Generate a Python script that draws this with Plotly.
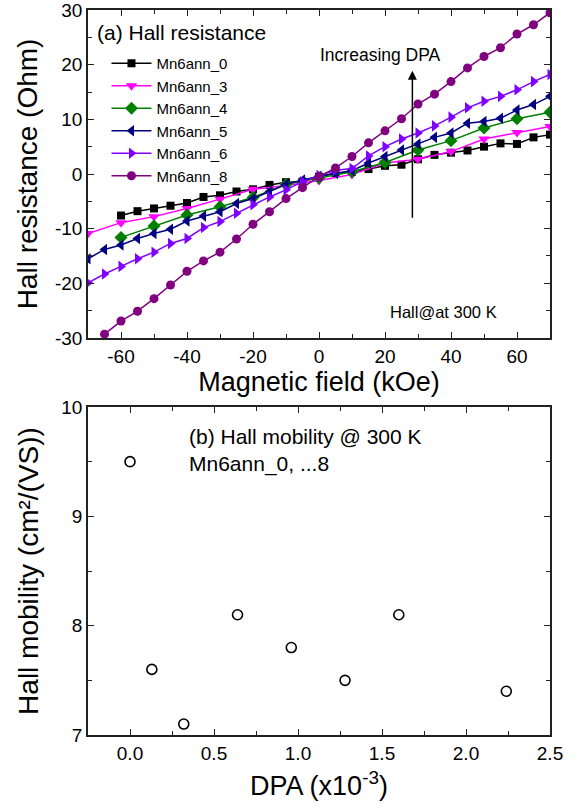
import plotly.graph_objects as go

# ---------------- data: panel (a) Hall resistance ----------------
field_0 = [-60, -55, -50, -45, -40, -35, -30, -25, -20, -15, -10, -5, 0, 5, 10, 15, 20, 25, 30, 35, 40, 45, 50, 55, 60, 65, 70]
hall_0 = [-7.6, -6.8, -6.3, -5.8, -5.3, -4.2, -3.9, -3.2, -2.8, -2.0, -1.5, -1.4, -0.5, 0.2, 0.4, 0.9, 1.5, 1.7, 2.7, 3.5, 3.9, 4.3, 5.0, 5.6, 5.5, 6.7, 7.2]

field_3 = [-70, -60, -50, -40, -30, -20, -10, 0, 10, 20, 30, 40, 50, 60, 70]
hall_3 = [-10.9, -8.9, -7.8, -6.3, -4.6, -2.8, -2.1, -1.2, -0.1, 2.0, 2.7, 4.1, 6.4, 7.6, 8.7]

field_4 = [-60, -50, -40, -30, -20, -10, 0, 10, 20, 30, 40, 50, 60, 70]
hall_4 = [-11.6, -9.5, -7.5, -6.0, -4.3, -1.9, -0.7, 0.4, 2.1, 4.4, 6.1, 8.4, 10.1, 11.3]

field_5 = [-70, -65, -60, -55, -50, -45, -40, -35, -30, -25, -20, -15, -10, -5, 0, 5, 10, 15, 20, 25, 30, 35, 40, 45, 50, 55, 60, 65, 70]
hall_5 = [-15.5, -13.8, -13.0, -11.8, -10.9, -10.1, -8.6, -7.7, -6.9, -5.4, -4.5, -3.2, -1.9, -1.1, -0.4, 0.1, 0.6, 2.0, 3.2, 4.4, 5.5, 6.7, 7.5, 9.3, 9.6, 10.2, 11.7, 12.7, 14.2]

field_6 = [-70, -65, -60, -55, -50, -45, -40, -35, -30, -25, -20, -15, -10, -5, 0, 5, 10, 15, 20, 25, 30, 35, 40, 45, 50, 55, 60, 65, 70]
hall_6 = [-19.9, -18.3, -16.9, -15.5, -14.3, -12.7, -11.8, -9.8, -8.7, -7.2, -5.6, -4.2, -2.9, -1.4, -0.3, 0.7, 1.0, 3.3, 5.0, 6.4, 7.5, 8.8, 10.4, 12.1, 13.3, 14.2, 15.4, 16.9, 18.2]

field_8 = [-65, -60, -55, -50, -45, -40, -35, -30, -25, -20, -15, -10, -5, 0, 5, 10, 15, 20, 25, 30, 35, 40, 45, 50, 55, 60, 65, 70]
hall_8 = [-29.3, -26.9, -25.1, -22.8, -20.3, -17.8, -15.9, -14.3, -11.9, -9.2, -6.9, -4.5, -2.5, -0.5, 1.1, 3.2, 5.7, 7.9, 10.1, 12.8, 14.6, 16.9, 19.4, 21.5, 23.1, 25.6, 27.3, 29.5]

sample_names = ["Mn6ann_0", "Mn6ann_3", "Mn6ann_4", "Mn6ann_5", "Mn6ann_6", "Mn6ann_8"]

# ---------------- data: panel (b) Hall mobility ----------------
dpa = [0.0, 0.13, 0.32, 0.64, 0.96, 1.28, 1.60, 2.24]
mobility = [9.5, 7.6, 7.1, 8.1, 7.8, 7.5, 8.1, 7.4]

# tick labels
field_ticks = [-60, -40, -20, 0, 20, 40, 60]
field_ticklabels = ["-60", "-40", "-20", "0", "20", "40", "60"]
hall_ticks = [-30, -20, -10, 0, 10, 20, 30]
hall_ticklabels = ["-30", "-20", "-10", "0", "10", "20", "30"]
dpa_ticks = [0.0, 0.5, 1.0, 1.5, 2.0, 2.5]
dpa_ticklabels = ["0.0", "0.5", "1.0", "1.5", "2.0", "2.5"]
mob_ticks = [7, 8, 9, 10]
mob_ticklabels = ["7", "8", "9", "10"]

# ---------------- styles ----------------
series = [
    (field_0, hall_0, "#000000", "square", 8),
    (field_3, hall_3, "#FF00FF", "triangle-down", 10),
    (field_4, hall_4, "#008000", "diamond", 10),
    (field_5, hall_5, "#000080", "triangle-left", 10),
    (field_6, hall_6, "#8000FF", "triangle-right", 10),
    (field_8, hall_8, "#800080", "circle", 9),
]

FONT = "Liberation Sans, Arial, sans-serif"

fig = go.Figure()
for (xs, ys, col, sym, sz), name in zip(series, sample_names):
    fig.add_trace(go.Scatter(
        x=xs, y=ys, name=name, mode="lines+markers",
        line=dict(color=col, width=1.5),
        marker=dict(symbol=sym, size=sz, color=col, line=dict(width=0)),
        xaxis="x", yaxis="y",
    ))

fig.add_trace(go.Scatter(
    x=dpa, y=mobility, mode="markers", showlegend=False,
    marker=dict(symbol="circle-open", size=10, color="black", line=dict(width=1.6)),
    xaxis="x2", yaxis="y2",
))

axis_common = dict(
    showline=True, linecolor="#222222", linewidth=1.5, mirror="ticks",
    ticks="inside", ticklen=6, tickwidth=1.3, tickcolor="#222222",
    showgrid=False, zeroline=False, automargin=False,
    ticklabeloverflow="allow",
    tickfont=dict(family=FONT, size=19, color="black"),
)
minor_common = dict(ticks="inside", ticklen=4, tickwidth=1.3, tickcolor="#222222")

fig.update_layout(
    width=581, height=806,
    margin=dict(l=88, r=31, t=10, b=71),
    paper_bgcolor="white", plot_bgcolor="white",
    font=dict(family=FONT, color="black"),
    xaxis=dict(
        axis_common, range=[-70, 70], anchor="y",
        tickvals=field_ticks, ticktext=field_ticklabels,
        minor=dict(minor_common, dtick=10, tick0=0),
        title=dict(text="Magnetic field (kOe)", font=dict(family=FONT, size=27), standoff=3),
    ),
    yaxis=dict(
        axis_common, range=[-30, 30], domain=[0.5476, 1.0], anchor="x",
        tickvals=hall_ticks, ticktext=hall_ticklabels,
        minor=dict(minor_common, dtick=5, tick0=0),
        title=dict(text="Hall resistance (Ohm)", font=dict(family=FONT, size=28), standoff=9),
    ),
    xaxis2=dict(
        axis_common, range=[-0.25, 2.5], anchor="y2",
        tickvals=dpa_ticks, ticktext=dpa_ticklabels,
        minor=dict(minor_common, dtick=0.25, tick0=0),
        title=dict(text="DPA (x10<sup>-3</sup>)", font=dict(family=FONT, size=27), standoff=14),
    ),
    yaxis2=dict(
        axis_common, range=[7, 10], domain=[0.0, 0.4524], anchor="x2",
        tickvals=mob_ticks, ticktext=mob_ticklabels,
        minor=dict(minor_common, dtick=0.5, tick0=0),
        title=dict(text="Hall mobility (cm²/(VS))", font=dict(family=FONT, size=28), standoff=15),
    ),
    legend=dict(
        x=0.04, y=0.949, xanchor="left", yanchor="top",
        bgcolor="rgba(0,0,0,0)", borderwidth=0,
        font=dict(family=FONT, size=15, color="black"),
        itemwidth=40, tracegroupgap=0,
    ),
    showlegend=True,
)

annotations = [
    dict(x=-68, y=25.9, xref="x", yref="y", text="(a) Hall resistance", showarrow=False,
         xanchor="left", yanchor="middle", font=dict(family=FONT, size=21)),
    dict(x=18.7, y=21.8, xref="x", yref="y", text="Increasing DPA", showarrow=False,
         xanchor="center", yanchor="middle", font=dict(family=FONT, size=17.5)),
    dict(x=28.3, y=18.9, ax=28.3, ay=-8.3, xref="x", yref="y", axref="x", ayref="y",
         text="", showarrow=True, arrowhead=2, arrowsize=1.2, arrowwidth=1.5, arrowcolor="black"),
    dict(x=20.9, y=-25.3, xref="x", yref="y", text="Hall@at 300 K", showarrow=False,
         xanchor="left", yanchor="middle", font=dict(family=FONT, size=16.5)),
    dict(x=0.342, y=9.726, xref="x2", yref="y2", text="(b) Hall mobility @ 300 K", showarrow=False,
         xanchor="left", yanchor="middle", font=dict(family=FONT, size=21)),
    dict(x=0.342, y=9.483, xref="x2", yref="y2", text="Mn6ann_0, ...8", showarrow=False,
         xanchor="left", yanchor="middle", font=dict(family=FONT, size=21)),
]
fig.update_layout(annotations=annotations)

fig.write_html("out.html", config=dict(displayModeBar=False),
               post_script="document.body.style.margin='0px';")
